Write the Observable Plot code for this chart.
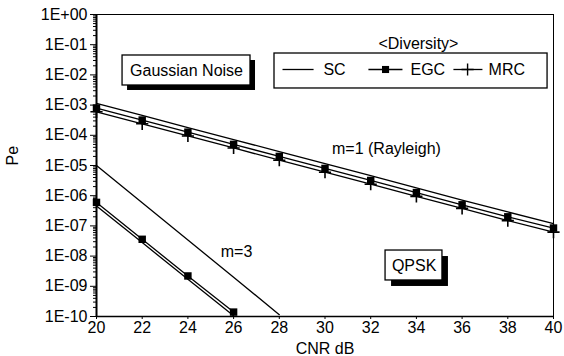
<!DOCTYPE html>
<html>
<head>
<meta charset="utf-8">
<script src="https://cdn.jsdelivr.net/npm/d3@7"></script>
<script src="https://cdn.jsdelivr.net/npm/@observablehq/plot@0.6"></script>
<style>
  html, body { margin: 0; padding: 0; background: #fff; }
  #chart svg { display: block; }
</style>
</head>
<body>
<div id="chart"></div>
<script>
// ---- data ----
const cnr = [20, 22, 24, 26, 28, 30, 32, 34, 36, 38, 40];
// m = 1 (Rayleigh)
const m1SC  = [1.15e-3, 4.6e-4, 1.8e-4, 7.2e-5, 2.9e-5, 1.15e-5, 4.6e-6, 1.8e-6, 7.2e-7, 2.9e-7, 1.2e-7];
const m1EGC = [8.0e-4, 3.2e-4, 1.27e-4, 5.0e-5, 2.0e-5, 8.0e-6, 3.2e-6, 1.27e-6, 5.0e-7, 2.0e-7, 8.5e-8];
const m1MRC = [6.0e-4, 2.4e-4, 9.5e-5, 3.8e-5, 1.5e-5, 6.0e-6, 2.4e-6, 9.5e-7, 3.8e-7, 1.5e-7, 6.2e-8];
// m = 3
const cnrM3SC = [20, 22, 24, 26, 28];
const m3SC  = [1.0e-5, 5.8e-7, 3.4e-8, 2.0e-9, 1.15e-10];
const cnrM3 = [20, 22, 24, 26];
const m3EGC = [6.0e-7, 3.6e-8, 2.2e-9, 1.4e-10];
const m3MRC = [4.6e-7, 2.8e-8, 1.7e-9, 1.05e-10];

const xTicks = [20, 22, 24, 26, 28, 30, 32, 34, 36, 38, 40];
const yExponents = [0, -1, -2, -3, -4, -5, -6, -7, -8, -9, -10];

// ---- build tables ----
const rows = [];
function addSeries(xs, ys, scheme, m) {
  xs.forEach((x, i) => rows.push({x, y: ys[i], scheme, m, key: scheme + m}));
}
addSeries(cnr, m1SC, "SC", 1);
addSeries(cnr, m1EGC, "EGC", 1);
addSeries(cnr, m1MRC, "MRC", 1);
addSeries(cnrM3SC, m3SC, "SC", 3);
addSeries(cnrM3, m3EGC, "EGC", 3);
addSeries(cnrM3, m3MRC, "MRC", 3);

const majorY = yExponents.map(e => Math.pow(10, e));
const minorY = [];
for (let e = -10; e < 0; e++) for (let k = 2; k <= 9; k++) minorY.push(k * Math.pow(10, e));
const fmt = d => {
  const e = Math.round(Math.log10(d));
  return "1E" + (e >= 0 ? "+" : "-") + String(Math.abs(e)).padStart(2, "0");
};

// annotation anchors (data units)
const gBox = {x1: 21.14, x2: 26.74, y1: 0.0439, y2: 0.00446, tx: 23.94, ty: 0.014, label: "Gaussian Noise"};
const qBox = {x1: 32.65, x2: 35.14, y1: 1.53e-8, y2: 1.56e-9, tx: 33.9, ty: 4.9e-9, label: "QPSK"};
const legBox = {x1: 27.79, x2: 39.74, y1: 0.0511, y2: 0.00355};
const legTitle = {x: 34.09, y: 0.11, label: "<Diversity>"};
const legRowY = 0.0151;
const legItems = [
  {scheme: "SC",  lx1: 28.14, lx2: 29.50, mx: null,  tx: 29.93},
  {scheme: "EGC", lx1: 31.90, lx2: 33.39, mx: 32.65, tx: 33.74},
  {scheme: "MRC", lx1: 35.62, lx2: 36.89, mx: 36.24, tx: 37.16}
];
const curveLabels = [
  {x: 32.69, y: 3.66e-5, label: "m=1 (Rayleigh)"},
  {x: 26.13, y: 1.42e-8, label: "m=3"}
];

const FONT = "'Liberation Sans', Arial, Helvetica, sans-serif";

const plot = Plot.plot({
  width: 564,
  height: 356,
  marginLeft: 96,
  marginRight: 11,
  marginTop: 14,
  marginBottom: 40,
  style: {fontFamily: FONT, fontSize: "16px", background: "#fff", color: "#000"},
  x: {domain: [20, 40]},
  y: {type: "log", domain: [1e-10, 1]},
  marks: [
    // axes
    Plot.axisY(minorY, {tickSize: 3, text: null, strokeWidth: 1}),
    Plot.axisY(majorY, {tickSize: 6, tickPadding: 3, tickFormat: fmt, fontSize: 16, label: null}),
    Plot.axisX(xTicks, {tickSize: 3, tickPadding: 2, fontSize: 16, label: null}),
    Plot.text(["CNR dB"], {frameAnchor: "bottom", lineAnchor: "middle", dy: 32, fontSize: 16}),
    Plot.text(["Pe"], {frameAnchor: "left", dx: -84, rotate: -90, fontSize: 16}),
    // frame
    Plot.ruleY([1], {strokeWidth: 1}),
    Plot.ruleX([40], {strokeWidth: 1}),
    // curves
    Plot.line(rows, {x: "x", y: "y", z: "key", stroke: "#000", strokeWidth: 1.3}),
    Plot.dot(rows.filter(d => d.scheme === "EGC"), {x: "x", y: "y", symbol: "square", r: 4.2, fill: "#000", stroke: null}),
    Plot.dot(rows.filter(d => d.scheme === "MRC" && d.m === 1), {x: "x", y: "y", symbol: "plus", r: 4, stroke: "#000", strokeWidth: 1.6}),
    Plot.ruleX([20], {strokeWidth: 2}),
    Plot.ruleY([1e-10], {strokeWidth: 1.5}),
    Plot.text(curveLabels, {x: "x", y: "y", text: "label", fontSize: 16}),
    // Gaussian Noise box with shadow
    Plot.rect([gBox], {x1: "x1", x2: "x2", y1: "y1", y2: "y2", fill: "#000", dx: 5, dy: 5}),
    Plot.rect([gBox], {x1: "x1", x2: "x2", y1: "y1", y2: "y2", fill: "#fff", stroke: "#000", strokeWidth: 1.3}),
    Plot.text([gBox], {x: "tx", y: "ty", text: "label", fontSize: 16}),
    // QPSK box with shadow
    Plot.rect([qBox], {x1: "x1", x2: "x2", y1: "y1", y2: "y2", fill: "#000", dx: 6, dy: 6}),
    Plot.rect([qBox], {x1: "x1", x2: "x2", y1: "y1", y2: "y2", fill: "#fff", stroke: "#000", strokeWidth: 1.3}),
    Plot.text([qBox], {x: "tx", y: "ty", text: "label", fontSize: 16}),
    // legend
    Plot.text([legTitle], {x: "x", y: "y", text: "label", fontSize: 16}),
    Plot.rect([legBox], {x1: "x1", x2: "x2", y1: "y1", y2: "y2", fill: "#fff", stroke: "#000", strokeWidth: 1.3}),
    Plot.link(legItems, {x1: "lx1", x2: "lx2", y1: () => legRowY, y2: () => legRowY, stroke: "#000", strokeWidth: 1.3}),
    Plot.dot(legItems.filter(d => d.scheme === "EGC"), {x: "mx", y: () => legRowY, symbol: "square", r: 4, fill: "#000", stroke: null}),
    Plot.dot(legItems.filter(d => d.scheme === "MRC"), {x: "mx", y: () => legRowY, symbol: "plus", r: 4, stroke: "#000", strokeWidth: 1.4}),
    Plot.text(legItems, {x: "tx", y: () => legRowY, text: "scheme", textAnchor: "start", fontSize: 16})
  ]
});
document.getElementById("chart").appendChild(plot);
</script>
</body>
</html>
